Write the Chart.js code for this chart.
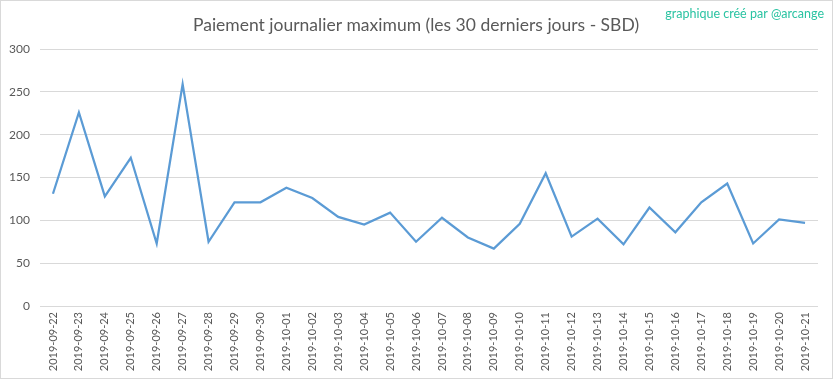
<!DOCTYPE html>
<html>
<head>
<meta charset="utf-8">
<script src="https://cdn.jsdelivr.net/npm/chart.js@4/dist/chart.umd.min.js"></script>
<style>
  html, body { margin: 0; padding: 0; background: #ffffff; }
  #wrap { width: 833px; height: 379px; position: relative; }
</style>
</head>
<body>
<div id="wrap"><canvas id="c" width="833" height="379"></canvas></div>
<script>
const titleText = "Paiement journalier maximum (les 30 derniers jours - SBD)";
const creditText = "graphique créé par @arcange";
const dates = [
  "2019-09-22","2019-09-23","2019-09-24","2019-09-25","2019-09-26","2019-09-27",
  "2019-09-28","2019-09-29","2019-09-30","2019-10-01","2019-10-02","2019-10-03",
  "2019-10-04","2019-10-05","2019-10-06","2019-10-07","2019-10-08","2019-10-09",
  "2019-10-10","2019-10-11","2019-10-12","2019-10-13","2019-10-14","2019-10-15",
  "2019-10-16","2019-10-17","2019-10-18","2019-10-19","2019-10-20","2019-10-21"
];
const maxPayout = [
  131, 226, 128, 173, 73, 259,
  75, 121, 121, 138, 126, 104,
  95, 109, 75, 103, 80, 67,
  96, 155, 81, 102, 72, 115,
  86, 121, 143, 73, 101, 97
];
const yTicks = [0, 50, 100, 150, 200, 250, 300];

const FONT = "Lato, 'Open Sans', sans-serif";

const decor = {
  id: 'decor',
  afterDraw(chart) {
    const ctx = chart.ctx;
    ctx.save();
    ctx.strokeStyle = '#d9d9d9';
    ctx.lineWidth = 1;
    ctx.strokeRect(0.5, 0.5, chart.width - 1, chart.height - 1);
    ctx.fillStyle = '#595959';
    ctx.font = '17.5px ' + FONT;
    ctx.textAlign = 'center';
    ctx.textBaseline = 'middle';
    ctx.fillText(titleText, 416, 25);
    ctx.fillStyle = '#2ac3a2';
    ctx.font = '12.5px ' + FONT;
    ctx.textAlign = 'right';
    ctx.fillText(creditText, 824, 14);
    ctx.restore();
  }
};

new Chart(document.getElementById('c'), {
  type: 'line',
  data: {
    labels: dates,
    datasets: [{
      data: maxPayout,
      borderColor: '#5b9bd5',
      borderWidth: 2.25,
      pointRadius: 0,
      tension: 0,
      fill: false
    }]
  },
  options: {
    responsive: false,
    animation: false,
    devicePixelRatio: 1,
    layout: { padding: { top: 49, right: 15, bottom: 7, left: 0 } },
    plugins: { legend: { display: false }, title: { display: false }, tooltip: { enabled: false } },
    scales: {
      x: {
        offset: true,
        grid: { display: false, drawTicks: false },
        border: { display: false },
        ticks: {
          color: '#595959',
          font: { family: FONT, size: 11 },
          minRotation: 90, maxRotation: 90,
          autoSkip: false,
          padding: 6
        },
        afterFit(scale) { scale.height = 66; }
      },
      y: {
        min: 0, max: 300,
        afterBuildTicks(scale) { scale.ticks = yTicks.map(v => ({ value: v })); },
        grid: { color: '#d9d9d9', lineWidth: 1, drawTicks: false },
        border: { display: false },
        ticks: {
          color: '#595959',
          font: { family: FONT, size: 12 },
          padding: 10
        },
        afterFit(scale) { scale.width = 40; }
      }
    }
  },
  plugins: [decor]
});
</script>
</body>
</html>
